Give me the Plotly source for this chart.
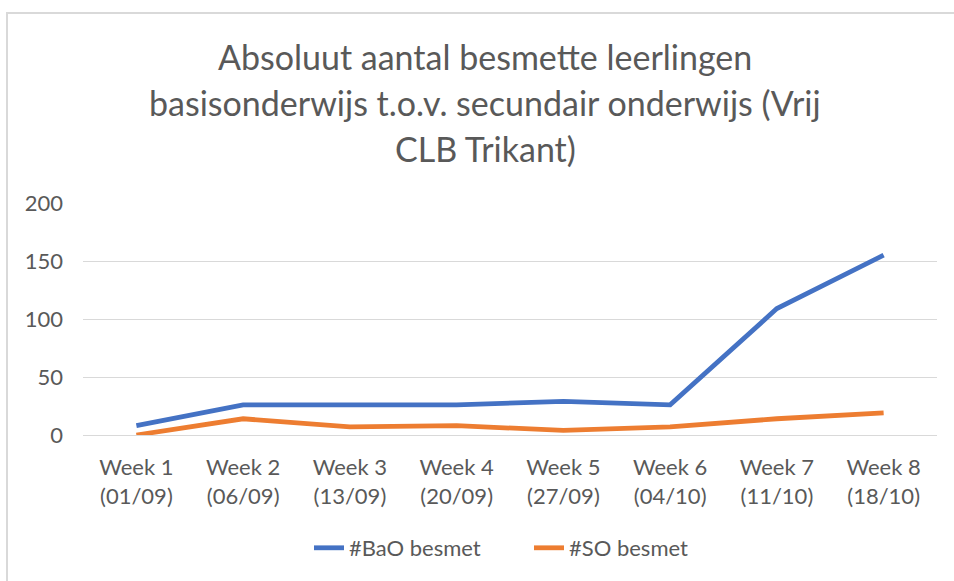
import plotly.graph_objects as go

weeks = ["Week 1", "Week 2", "Week 3", "Week 4", "Week 5", "Week 6", "Week 7", "Week 8"]
dates = ["(01/09)", "(06/09)", "(13/09)", "(20/09)", "(27/09)", "(04/10)", "(11/10)", "(18/10)"]
bao_besmet = [8, 26, 26, 26, 29, 26, 109, 155]
so_besmet = [0, 14, 7, 8, 4, 7, 14, 19]
y_ticks = [0, 50, 100, 150, 200]
title_lines = ["Absoluut aantal besmette leerlingen",
               "basisonderwijs t.o.v. secundair onderwijs (Vrij",
               "CLB Trikant)"]

categories = [f"{w}<br>{d}" for w, d in zip(weeks, dates)]
FONT = "Lato"
GREY = "#595959"

fig = go.Figure()
fig.add_trace(go.Scatter(x=categories, y=bao_besmet, mode="lines", name="#BaO besmet",
                         line=dict(color="#4472C4", width=4.8)))
fig.add_trace(go.Scatter(x=categories, y=so_besmet, mode="lines", name="#SO besmet",
                         line=dict(color="#ED7D31", width=4.8)))

W, H = 954, 581
L, R, T, B = 83, 17, 203, 146
ph = H - T - B
pw = W - L - R

def py(ypx):
    return (H - B - ypx) / ph

def px(xpx):
    return (xpx - L) / pw

for line, ypx in zip(title_lines, [57, 103, 148]):
    fig.add_annotation(text=line, x=px(485), y=py(ypx), xref="paper", yref="paper",
                       xanchor="center", yanchor="middle", showarrow=False,
                       font=dict(family=FONT, size=34, color=GREY))

# chart area border (top and left visible)
fig.add_shape(type="path", xref="paper", yref="paper",
              path=f"M {px(7)} {py(700)} L {px(7)} {py(13)} L {px(1100)} {py(13)}",
              line=dict(color="#d9d9d9", width=2))

fig.update_layout(
    width=W, height=H,
    margin=dict(l=L, r=R, t=T, b=B, autoexpand=False),
    paper_bgcolor="white", plot_bgcolor="white",
    font=dict(family=FONT, size=22, color=GREY),
    showlegend=True,
    legend=dict(orientation="h", x=px(309), y=py(548), xanchor="left", yanchor="middle",
                font=dict(family=FONT, size=22, color=GREY),
                entrywidth=175, entrywidthmode="pixels"),
    xaxis=dict(type="category", range=[-0.5, 7.5], showgrid=False,
               showline=True, linecolor="#d9d9d9", linewidth=1,
               ticks="", tickfont=dict(size=22, color=GREY), ticklabelstandoff=13),
    yaxis=dict(range=[0, 200], tickvals=y_ticks, showgrid=True, gridcolor="#d9d9d9",
               gridwidth=1, zeroline=False, showline=False, ticks="",
               tickfont=dict(size=22, color=GREY), ticklabelstandoff=19),
)

fig.write_html("out.html", config={"displayModeBar": False},
               post_script="document.body.style.margin='0';document.body.style.overflow='hidden';")
